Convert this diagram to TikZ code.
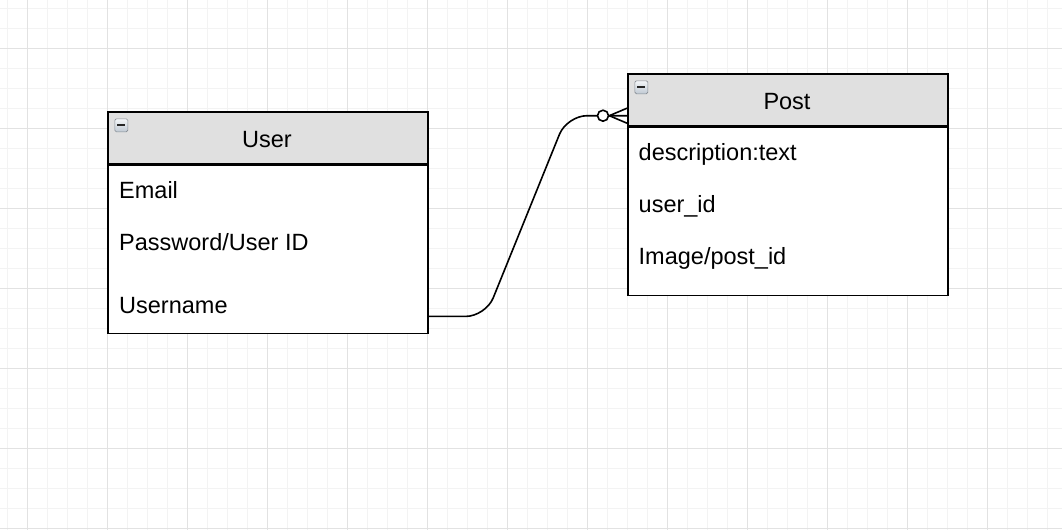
\documentclass[tikz,border=0pt]{standalone}
\usepackage{fontspec}
\setmainfont{Liberation Sans}
\usetikzlibrary{calc}
\definecolor{minorgrid}{HTML}{F3F3F3}
\definecolor{majorgrid}{HTML}{E2E2E2}
\definecolor{hdrfill}{HTML}{E0E0E0}
\definecolor{iconlo}{HTML}{BFC9D3}
\definecolor{iconhi}{HTML}{F4F6F8}
\definecolor{iconedge}{HTML}{858B92}
\tikzset{
  ehead/.style={draw, line width=1.7pt, fill=hdrfill, minimum width=320pt,
    minimum height=52pt, inner sep=0pt, anchor=north west},
  ebody/.style={draw, line width=1.7pt, fill=white, minimum width=320pt,
    inner sep=0pt, anchor=north},
  etitle/.style={anchor=base, inner sep=0pt},
  field/.style={anchor=base west, inner sep=0pt},
  rel/.style={line width=1.6pt, rounded corners=20pt},
  crow/.style={line width=1.6pt},
  togglebox/.style={draw=iconedge, line width=0.7pt, rounded corners=1.5pt,
    top color=iconhi, bottom color=iconlo, minimum size=13pt, inner sep=0pt,
    anchor=north west}
}
\newcommand{\tog}[2]{%
  \node[togglebox] (#1) at #2 {};
  \draw[line width=2.2pt, black!85] ($(#1.center)+(-4pt,0)$) -- ($(#1.center)+(4pt,0)$);}
\begin{document}
\begin{tikzpicture}[x=1pt, y=-1pt, font=\fontsize{23.5}{28}\selectfont]
\useasboundingbox (0,0) rectangle (1062,530);
\fill[white] (0,0) rectangle (1062,530);
% background grid
\foreach \gx in {7,27,...,1062} \draw[minorgrid, line width=1pt] (\gx,0) -- (\gx,530);
\foreach \gy in {8,28,...,530} \draw[minorgrid, line width=1pt] (0,\gy) -- (1062,\gy);
\foreach \gx in {27,107,...,1062} \draw[majorgrid, line width=1pt] (\gx,0) -- (\gx,530);
\foreach \gy in {48,128,...,530} \draw[majorgrid, line width=1pt] (0,\gy) -- (1062,\gy);

% User entity
\node[ehead] (userh) at (107,111) {};
\node[ebody, minimum height=168pt] (userb) at (userh.south) {};
\node[etitle] (usert) at (267,147.5) {User};
\node[field] (uemail) at (119,198) {Email};
\node[field] (upass) at (119,250) {Password/User ID};
\node[field] (uname) at (119,313) {Username};
\tog{utog}{(114.5,118.5)}

% Post entity
\node[ehead] (posth) at (627,73) {};
\node[ebody, minimum height=168pt] (postb) at (posth.south) {};
\node[etitle] (postt) at (787,109.5) {Post};
\node[field] (pdesc) at (638.5,160) {description:text};
\node[field] (puid) at (638.5,212) {user\_id};
\node[field] (pimg) at (638.5,264) {Image/post\_id};
\tog{ptog}{(634.5,80.5)}

% relationship: one user to zero-or-many posts
\coordinate (uconn) at ($(userb.south east)+(0,-18)$);
\coordinate (pconn) at ($(posth.south west)+(0,-11)$);
\draw[rel] (uconn) -- ++(57,0) -- ($(pconn)+(-60,0)$) -- (pconn);
\node[draw, circle, line width=1.6pt, fill=white, minimum size=11pt, inner sep=0pt]
  (zero) at ($(pconn)+(-24,0)$) {};
\draw[crow] (zero.east) -- ($(pconn)+(0,-7.5)$);
\draw[crow] (zero.east) -- ($(pconn)+(0,7.5)$);
\end{tikzpicture}
\end{document}
